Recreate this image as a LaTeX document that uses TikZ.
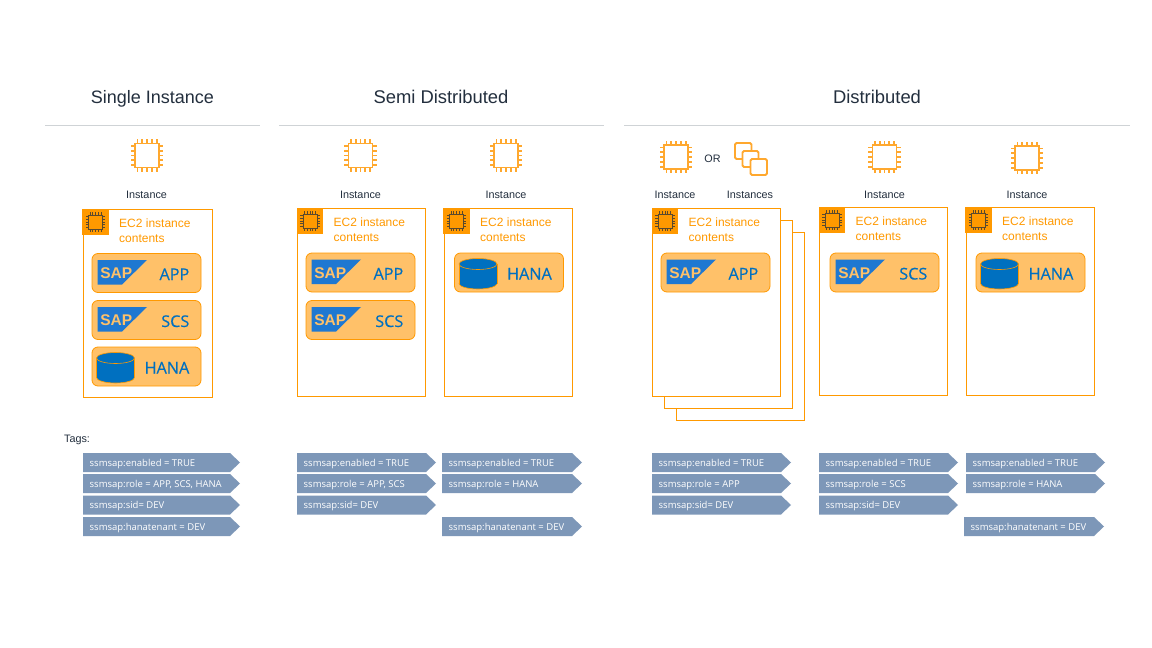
\documentclass[tikz,border=0pt]{standalone}
\usepackage{fontspec}
\setmainfont{Liberation Sans}
\newfontfamily\ofont{Open Sans}
\newfontfamily\ofontb[FakeBold=0.35]{Open Sans}
\definecolor{aws}{HTML}{FF9900}
\definecolor{iconor}{HTML}{FFA82E}
\definecolor{pillf}{HTML}{FFC169}
\definecolor{sapb}{HTML}{1F78D1}
\definecolor{dbb}{HTML}{0070C0}
\definecolor{tagf}{HTML}{7D97B8}
\definecolor{darkt}{HTML}{232F3E}
\definecolor{rulec}{HTML}{CFD3D6}
\tikzset{
  titletext/.style={text=darkt,font=\fontsize{18.4}{20}\selectfont,inner sep=0pt,anchor=base},
  smalltext/.style={text=darkt,font=\fontsize{10.8}{12}\selectfont,inner sep=0pt,anchor=base},
  ec2text/.style={text=aws,font=\fontsize{12}{15}\selectfont,inner sep=0pt,anchor=north west,align=left},
  pilltext/.style={text=dbb,font=\ofontb\fontsize{16.2}{18}\selectfont,inner sep=0pt,anchor=base east},
  tagtext/.style={text=white,font=\ofont\fontsize{9.5}{11}\selectfont,inner sep=0pt,anchor=base west},
  boxline/.style={draw=aws,line width=1pt,fill=white},
  pillbox/.style={draw=aws,line width=.8pt,fill=pillf,rounded corners=6pt},
  headrule/.style={draw=rulec,line width=1pt},
}
\newcommand{\chipicon}[5]{%
  \begin{scope}[shift={(#1,#2)}]
    \draw[#4,line width=#5,fill=none] (-#3,-#3) rectangle (#3,#3);
    \foreach \t in {-0.8,-0.4,0,0.4,0.8}{
      \draw[#4,line width=#5] ({\t*#3},{-#3}) -- ({\t*#3},{-1.36*#3});
      \draw[#4,line width=#5] ({\t*#3},{#3}) -- ({\t*#3},{1.36*#3});
      \draw[#4,line width=#5] ({-#3},{\t*#3}) -- ({-1.36*#3},{\t*#3});
      \draw[#4,line width=#5] ({#3},{\t*#3}) -- ({1.36*#3},{\t*#3});
    }
  \end{scope}}
\newcommand{\ectwobox}[5]{%
  \draw[boxline] (#2,#3) rectangle (#4,#5);
  \fill[aws] (#2-1,#3-.5) rectangle (#2+25.5,#3+25.5);
  \chipicon{#2+12.5}{#3+12.5}{7}{darkt!75!aws}{.7pt}
  \node[ec2text] (#1) at (#2+36,#3+9.5) {EC2 instance\\contents};}
\newcommand{\pillshape}[3]{\draw[pillbox] (#1,#2) rectangle (#1+109,#2+39);}
\newcommand{\sappill}[4]{%
  \pillshape{#2}{#3}{}
  \fill[sapb] (#2+5.5,#3+6.5) -- (#2+55,#3+6.5) -- (#2+30,#3+31) -- (#2+5.5,#3+31) -- cycle;
  \node[text=pillf,font=\bfseries\fontsize{15.5}{18}\selectfont,inner sep=0pt,anchor=base] (#1s) at (#2+24.2,#3+25) {SAP};
  \node[pilltext] (#1) at (#2+97.5,#3+26.5) {#4};}
\newcommand{\hanapill}[3]{%
  \pillshape{#2}{#3}{}
  \draw[aws,line width=.6pt,fill=dbb] (#2+23.5,#3+30.5) ellipse[x radius=19,y radius=5.5];
  \fill[dbb] (#2+4.5,#3+11) rectangle (#2+42.5,#3+30.5);
  \draw[aws,line width=.6pt] (#2+4.5,#3+11) -- (#2+4.5,#3+30.5) (#2+42.5,#3+11) -- (#2+42.5,#3+30.5);
  \draw[aws,line width=.6pt,fill=dbb] (#2+23.5,#3+11) ellipse[x radius=19,y radius=5.5];
  \node[pilltext] (#1) at (#2+97.5,#3+26.5) {HANA};}
\newcommand{\tagarrow}[5]{%
  \fill[tagf] (#2,#4) -- (#3-10,#4) -- (#3,#4+9.5) -- (#3-10,#4+19) -- (#2,#4+19) -- cycle;
  \node[tagtext] (#1) at (#2+6.5,#4+13) {#5};}
\begin{document}
\begin{tikzpicture}[x=1pt,y=-1pt]
\useasboundingbox (0,0) rectangle (1152,648);
\fill[white] (0,0) rectangle (1152,648);
\node[titletext,font=\fontsize{18}{20}\selectfont] (t1) at (152.5,103.5) {Single Instance};
\node[titletext] (t2) at (441,103.5) {Semi Distributed};
\node[titletext] (t3) at (877,103.5) {Distributed};
\coordinate (r1a) at (45,125); \coordinate (r1b) at (260,125);
\coordinate (r2a) at (279,125); \coordinate (r2b) at (604,125);
\coordinate (r3a) at (624,125); \coordinate (r3b) at (1130,125);
\draw[headrule] (r1a) -- (r1b);
\draw[headrule] (r2a) -- (r2b);
\draw[headrule] (r3a) -- (r3b);
\chipicon{147}{155.5}{12}{iconor}{1.8pt}
\chipicon{360.5}{155.5}{12}{iconor}{1.8pt}
\chipicon{506}{155.5}{12}{iconor}{1.8pt}
\chipicon{676}{157}{12}{iconor}{1.8pt}
\chipicon{884.5}{157}{12}{iconor}{1.8pt}
\chipicon{1027}{158}{12}{iconor}{1.8pt}
\draw[iconor,line width=1.8pt,rounded corners=1.5pt,fill=white] (735,143) rectangle (751.5,159);
\draw[iconor,line width=1.8pt,rounded corners=1.5pt,fill=white] (742.5,151) rectangle (758.5,167);
\draw[iconor,line width=1.8pt,rounded corners=1.5pt,fill=white] (750.5,159) rectangle (767,175);
\node[smalltext] (or) at (712.5,162.5) {OR};
\node[smalltext] (i1) at (146.5,198) {Instance};
\node[smalltext] (i2) at (360.5,198) {Instance};
\node[smalltext] (i3) at (506,198) {Instance};
\node[smalltext] (i4) at (675,198) {Instance};
\node[smalltext] (i4b) at (750,198) {Instances};
\node[smalltext] (i5) at (884.5,198) {Instance};
\node[smalltext] (i6) at (1027,198) {Instance};
\ectwobox{e1}{83}{209.5}{212}{397.5}
\ectwobox{e2}{297.5}{208.5}{425.5}{396.5}
\ectwobox{e3}{444}{208.5}{572.5}{396.5}
\draw[boxline] (676.5,232) rectangle (804.5,420);
\draw[boxline] (664.5,220) rectangle (792.5,408);
\ectwobox{e4}{652.5}{208.5}{780.5}{396.5}
\ectwobox{e5}{819.5}{207.5}{947.5}{395.5}
\ectwobox{e6}{966}{207.5}{1094.5}{395.5}
\sappill{p1}{92}{253.5}{APP}
\sappill{p2}{92}{300.5}{SCS}
\hanapill{p3}{92}{347}
\sappill{p4}{306}{253}{APP}
\sappill{p5}{306}{300.5}{SCS}
\hanapill{p6}{454.5}{253}
\sappill{p7}{661}{253}{APP}
\sappill{p8}{830}{253}{SCS}
\hanapill{p9}{976}{253}
\node[smalltext] (tg) at (77,442.5) {Tags:};
\tagarrow{a1}{83}{240}{453}{ssmsap:enabled = TRUE}
\tagarrow{a2}{83}{240}{474}{ssmsap:role = APP, SCS, HANA}
\tagarrow{a3}{83}{240}{495.5}{ssmsap:sid= DEV}
\tagarrow{a4}{83}{240}{517}{ssmsap:hanatenant = DEV}
\tagarrow{b1}{297}{436}{453}{ssmsap:enabled = TRUE}
\tagarrow{b2}{297}{436}{474}{ssmsap:role = APP, SCS}
\tagarrow{b3}{297}{436}{495.5}{ssmsap:sid= DEV}
\tagarrow{c1}{442}{582}{453}{ssmsap:enabled = TRUE}
\tagarrow{c2}{442}{582}{474}{ssmsap:role = HANA}
\tagarrow{c4}{442}{582}{517}{ssmsap:hanatenant = DEV}
\tagarrow{d1}{652}{791}{453}{ssmsap:enabled = TRUE}
\tagarrow{d2}{652}{791}{474}{ssmsap:role = APP}
\tagarrow{d3}{652}{791}{495.5}{ssmsap:sid= DEV}
\tagarrow{f1}{819}{958}{453}{ssmsap:enabled = TRUE}
\tagarrow{f2}{819}{958}{474}{ssmsap:role = SCS}
\tagarrow{f3}{819}{958}{495.5}{ssmsap:sid= DEV}
\tagarrow{g1}{966}{1105}{453}{ssmsap:enabled = TRUE}
\tagarrow{g2}{966}{1105}{474}{ssmsap:role = HANA}
\tagarrow{g4}{964}{1104}{517}{ssmsap:hanatenant = DEV}
\end{tikzpicture}
\end{document}
